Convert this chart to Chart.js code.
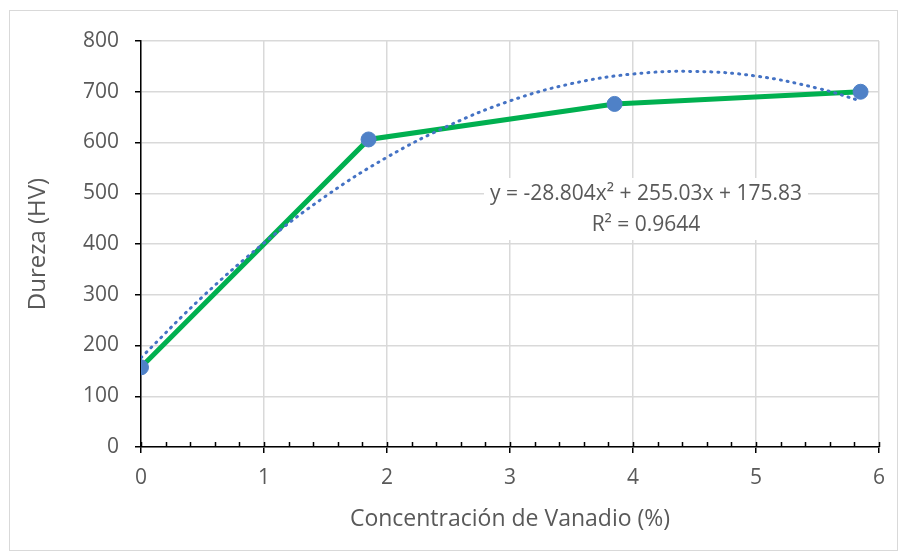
<!DOCTYPE html>
<html>
<head>
<meta charset="utf-8">
<script src="https://cdn.jsdelivr.net/npm/chart.js@4.4.1/dist/chart.umd.min.js"></script>
<style>
    html, body { margin: 0; padding: 0; background: #fff; }
    #wrap { position: relative; width: 903px; height: 558px; }
    #frame { position: absolute; left: 9px; top: 10px; width: 889px; height: 541px; border: 1px solid #d9d9d9; box-sizing: border-box; }
    canvas { position: absolute; left: 0; top: 0; }
</style>
</head>
<body>
<div id="wrap">
    <div id="frame"></div>
    <canvas id="durezaChart" width="903" height="558"></canvas>
</div>
<script>
// datos medidos
const vanadio = [0, 1.85, 3.85, 5.85];
const dureza = [157, 606, 676, 700];

// línea de tendencia
const trendX = [0, 0.5, 1, 1.5, 2, 2.5, 3, 3.5, 4, 4.5, 5, 5.5, 5.85];
const trendY = [176, 296, 402, 494, 571, 633, 682, 716, 735, 740, 731, 707, 682];

const xTicks = [0, 1, 2, 3, 4, 5, 6];
const yTicks = [0, 100, 200, 300, 400, 500, 600, 700, 800];

const eqLines = ['y = -28.804x² + 255.03x + 175.83', 'R² = 0.9644'];

const FONT = "'Open Sans', 'Liberation Sans', sans-serif";
const GREY_TEXT = '#595959';

const toXY = (xs, ys) => xs.map((x, i) => ({ x, y: ys[i] }));

// ticks menores y marcas que cruzan el eje X
const axisMarks = {
    id: 'axisMarks',
    afterDatasetsDraw(chart) {
        const { ctx } = chart;
        const xs = chart.scales.x;
        const y0 = xs.top;
        ctx.save();
        ctx.strokeStyle = '#000';
        ctx.lineWidth = 1.5;
        ctx.beginPath();
        for (let i = 0; i <= 30; i++) {
            const px = Math.round(xs.getPixelForValue(i * 0.2)) + 0.5;
            ctx.moveTo(px, y0);
            ctx.lineTo(px, y0 - 5);
        }
        ctx.stroke();
        ctx.restore();
    }
};

// etiqueta de la ecuación
const eqLabel = {
    id: 'eqLabel',
    beforeDatasetsDraw(chart) {
        const { ctx } = chart;
        const cx = 646, top = 178;
        ctx.save();
        ctx.fillStyle = '#fff';
        ctx.fillRect(cx - 162, top, 324, 62);
        ctx.fillStyle = GREY_TEXT;
        ctx.font = `21px ${FONT}`;
        ctx.textAlign = 'center';
        ctx.textBaseline = 'middle';
        ctx.fillText(eqLines[0], cx, 194);
        ctx.fillText(eqLines[1], cx, 225);
        ctx.restore();
    }
};

const ctx = document.getElementById('durezaChart');
// eslint-disable-next-line no-undef
new Chart(ctx, {
    type: 'scatter',
    data: {
        datasets: [
            {
                label: 'Dureza',
                data: toXY(vanadio, dureza),
                showLine: true,
                borderColor: '#00B050',
                borderWidth: 5,
                pointRadius: 0,
                tension: 0,
                order: 3
            },
            {
                label: 'Tendencia',
                data: toXY(trendX, trendY),
                showLine: true,
                borderColor: '#4472C4',
                borderWidth: 3,
                borderDash: [1, 6],
                borderCapStyle: 'round',
                pointRadius: 0,
                tension: 0.4,
                order: 2
            },
            {
                label: 'Puntos',
                data: toXY(vanadio, dureza),
                showLine: false,
                pointRadius: 7.5,
                pointBackgroundColor: '#4F81C7',
                pointBorderColor: '#4F81C7',
                order: 1
            }
        ]
    },
    options: {
        responsive: false,
        animation: false,
        layout: { padding: { top: 41, right: 24, left: 0, bottom: 0 } },
        plugins: { legend: { display: false }, tooltip: { enabled: false } },
        scales: {
            x: {
                type: 'linear',
                min: 0,
                max: 6,
                afterBuildTicks: (s) => { s.ticks = xTicks.map(v => ({ value: v })); },
                afterFit: (s) => { s.height = 111; },
                grid: { color: '#d9d9d9', lineWidth: 1.5, tickColor: '#000', tickLength: 6 },
                border: { color: '#000', width: 1.5 },
                ticks: { color: GREY_TEXT, font: { family: FONT, size: 21 }, padding: 12 },
                title: {
                    display: true,
                    text: 'Concentración de Vanadio (%)',
                    color: GREY_TEXT,
                    font: { family: FONT, size: 23 },
                    padding: { bottom: 25 }
                }
            },
            y: {
                min: 0,
                max: 800,
                afterBuildTicks: (s) => { s.ticks = yTicks.map(v => ({ value: v })); },
                afterFit: (s) => { s.width = 141; },
                grid: { color: '#d9d9d9', lineWidth: 1.5, tickColor: '#000', tickLength: 6 },
                border: { color: '#000', width: 1.5 },
                ticks: { color: GREY_TEXT, font: { family: FONT, size: 21 }, padding: 16 },
                title: {
                    display: true,
                    text: 'Dureza (HV)',
                    color: GREY_TEXT,
                    font: { family: FONT, size: 24 },
                    padding: { top: 24 }
                }
            }
        }
    },
    plugins: [axisMarks, eqLabel]
});
</script>
</body>
</html>
